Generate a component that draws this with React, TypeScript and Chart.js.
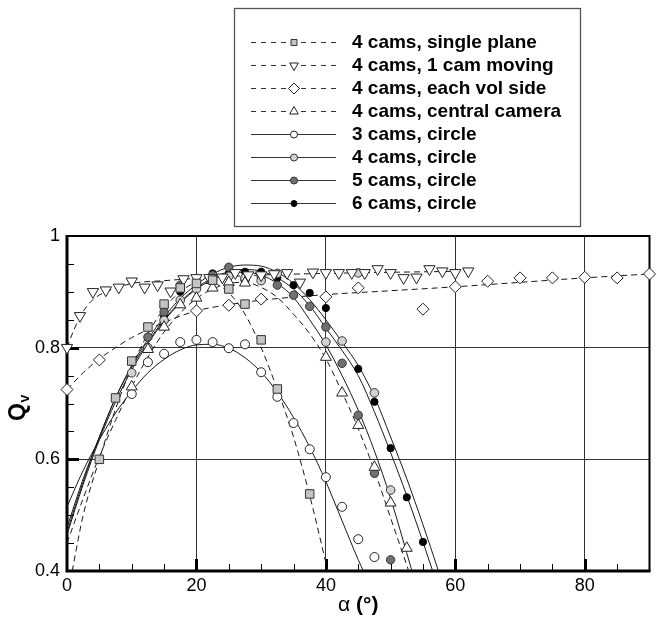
import React, { useEffect, useRef } from 'react';
import { Chart, registerables } from 'chart.js';

Chart.register(...registerables);

// ---------- data ----------
const xTickLabels = ['0', '20', '40', '60', '80'];
const yTickLabels = ['0.4', '0.6', '0.8', '1'];

const seriesLabels = [
  '4 cams, single plane',
  '4 cams, 1 cam moving',
  '4 cams, each vol side',
  '4 cams, central camera',
  '3 cams, circle',
  '4 cams, circle',
  '5 cams, circle',
  '6 cams, circle',
];

// markers
const singlePlaneX = [5, 7.5, 10, 12.5, 15, 17.5, 20, 22.5, 25, 27.5, 30, 32.5, 37.5];
const singlePlaneQ = [0.60, 0.71, 0.776, 0.837, 0.878, 0.907, 0.915, 0.921, 0.905, 0.878, 0.814, 0.726, 0.538];

const movingX = [0, 2, 4, 6, 8, 10, 12, 14, 16, 18, 20, 22, 24, 26, 28, 30, 32, 34, 36, 38, 40, 42, 44, 46, 48, 50, 52, 54, 56, 58, 60, 62];
const movingQ = [0.80, 0.857, 0.90, 0.903, 0.908, 0.919, 0.908, 0.912, 0.901, 0.923, 0.925, 0.925, 0.926, 0.934, 0.93, 0.93, 0.932, 0.934, 0.917, 0.935, 0.934, 0.934, 0.934, 0.934, 0.941, 0.934, 0.925, 0.926, 0.941, 0.937, 0.934, 0.937];

const eachVolX = [0, 5, 20, 25, 30, 40, 45, 55, 60, 65, 70, 75, 80, 85, 90];
const eachVolQ = [0.725, 0.778, 0.866, 0.876, 0.887, 0.891, 0.907, 0.869, 0.909, 0.919, 0.925, 0.925, 0.926, 0.925, 0.932];

const centralX = [10, 12.5, 15, 17.5, 20, 22.5, 25, 27.5, 40, 42.5, 45, 47.5, 50, 52.5];
const centralQ = [0.73, 0.797, 0.837, 0.877, 0.889, 0.907, 0.917, 0.916, 0.783, 0.719, 0.661, 0.586, 0.522, 0.441];

const threeCamX = [10, 12.5, 15, 17.5, 20, 22.5, 25, 27.5, 30, 32.5, 35, 37.5, 40, 42.5, 45, 47.5];
const threeCamQ = [0.717, 0.774, 0.789, 0.81, 0.814, 0.81, 0.799, 0.806, 0.756, 0.712, 0.665, 0.618, 0.568, 0.515, 0.457, 0.425];

const fourCamX = [10, 12.5, 15, 17.5, 20, 22.5, 25, 27.5, 30, 32.5, 40, 42.5, 45, 47.5, 50];
const fourCamQ = [0.755, 0.80, 0.849, 0.885, 0.905, 0.92, 0.928, 0.925, 0.92, 0.933, 0.81, 0.812, 0.934, 0.719, 0.545];

const fiveCamX = [10, 12.5, 15, 17.5, 20, 22.5, 25, 27.5, 30, 32.5, 35, 37.5, 40, 42.5, 45, 47.5, 50];
const fiveCamQ = [0.775, 0.819, 0.864, 0.912, 0.914, 0.93, 0.944, 0.921, 0.927, 0.912, 0.894, 0.874, 0.837, 0.772, 0.679, 0.575, 0.42];

const sixCamX = [10, 12.5, 15, 17.5, 20, 22.5, 25, 27.5, 30, 32.5, 35, 37.5, 40, 45, 47.5, 50, 52.5, 55];
const sixCamQ = [0.776, 0.801, 0.855, 0.9, 0.916, 0.933, 0.933, 0.936, 0.936, 0.925, 0.912, 0.898, 0.871, 0.762, 0.703, 0.62, 0.532, 0.452];

// fitted curves
const singlePlaneFitX = [0.8, 2.5, 5, 7.5, 10, 12.5, 15, 17.5, 20, 22.5, 25, 27.5, 30, 32.5, 35, 37.5, 40.3];
const singlePlaneFitQ = [0.40, 0.50, 0.60, 0.69, 0.765, 0.825, 0.87, 0.90, 0.915, 0.915, 0.898, 0.86, 0.80, 0.725, 0.64, 0.535, 0.40];

const movingFitX = [0, 1, 2, 3, 4, 6, 8, 10, 15, 20, 30, 40, 50, 62];
const movingFitQ = [0.80, 0.83, 0.855, 0.873, 0.886, 0.90, 0.908, 0.915, 0.92, 0.924, 0.93, 0.933, 0.935, 0.937];

const eachVolFitX = [0, 2.5, 5, 7.5, 10, 15, 20, 25, 30, 40, 50, 60, 70, 80, 90];
const eachVolFitQ = [0.725, 0.755, 0.78, 0.80, 0.818, 0.845, 0.866, 0.877, 0.885, 0.895, 0.902, 0.909, 0.917, 0.925, 0.932];

const centralFitX = [0, 2.5, 5, 7.5, 10, 12.5, 15, 17.5, 20, 22.5, 25, 27.5, 30, 32.5, 35, 37.5, 40, 42.5, 45, 47.5, 50, 52.8];
const centralFitQ = [0.45, 0.53, 0.605, 0.67, 0.73, 0.783, 0.828, 0.862, 0.888, 0.905, 0.915, 0.917, 0.908, 0.89, 0.86, 0.825, 0.78, 0.72, 0.655, 0.58, 0.495, 0.40];

const threeCamFitX = [0, 2.5, 5, 7.5, 10, 12.5, 15, 17.5, 20, 22.5, 25, 27.5, 30, 32.5, 35, 37.5, 40, 42.5, 45, 45.8];
const threeCamFitQ = [0.515, 0.58, 0.635, 0.683, 0.722, 0.755, 0.779, 0.796, 0.805, 0.806, 0.799, 0.782, 0.756, 0.72, 0.675, 0.622, 0.56, 0.49, 0.42, 0.40];

const fourCamFitX = [0, 2.5, 5, 7.5, 10, 12.5, 15, 17.5, 20, 22.5, 25, 27.5, 30, 32.5, 35, 37.5, 40, 42.5, 45, 47.5, 50, 52.5, 55, 56.5];
const fourCamFitQ = [0.478, 0.565, 0.64, 0.71, 0.765, 0.81, 0.85, 0.882, 0.907, 0.925, 0.936, 0.94, 0.937, 0.925, 0.905, 0.875, 0.835, 0.795, 0.75, 0.685, 0.612, 0.535, 0.452, 0.40];

const fiveCamFitX = [0, 2.5, 5, 7.5, 10, 12.5, 15, 17.5, 20, 22.5, 25, 27.5, 30, 32.5, 35, 37.5, 40, 42.5, 45, 47.5, 50, 53.3];
const fiveCamFitQ = [0.465, 0.555, 0.635, 0.703, 0.76, 0.807, 0.848, 0.88, 0.905, 0.922, 0.932, 0.935, 0.93, 0.915, 0.89, 0.85, 0.805, 0.75, 0.688, 0.615, 0.53, 0.40];

const sixCamFitX = [0, 2.5, 5, 7.5, 10, 12.5, 15, 17.5, 20, 22.5, 25, 27.5, 30, 32.5, 35, 37.5, 40, 42.5, 45, 47.5, 50, 52.5, 55, 57.4];
const sixCamFitQ = [0.47, 0.56, 0.64, 0.71, 0.768, 0.815, 0.855, 0.888, 0.913, 0.932, 0.944, 0.948, 0.946, 0.935, 0.915, 0.886, 0.85, 0.81, 0.768, 0.712, 0.64, 0.565, 0.483, 0.40];

// ---------- styling ----------
type Style = { pointStyle: string; radius: number; rotation: number; fill: string; stroke: string; dashed: boolean; legendRadius: number };
const styles: Style[] = [
  { pointStyle: 'rect', radius: 6, rotation: 0, fill: '#c4c4c4', stroke: '#333', dashed: true, legendRadius: 4.2 },
  { pointStyle: 'triangle', radius: 6.5, rotation: 180, fill: '#fff', stroke: '#222', dashed: true, legendRadius: 5 },
  { pointStyle: 'rectRot', radius: 6, rotation: 0, fill: '#fff', stroke: '#222', dashed: true, legendRadius: 5.5 },
  { pointStyle: 'triangle', radius: 6.3, rotation: 0, fill: '#fff', stroke: '#222', dashed: true, legendRadius: 5 },
  { pointStyle: 'circle', radius: 4.5, rotation: 0, fill: '#fff', stroke: '#222', dashed: false, legendRadius: 3.5 },
  { pointStyle: 'circle', radius: 4.3, rotation: 0, fill: '#d2d2d2', stroke: '#333', dashed: false, legendRadius: 3.5 },
  { pointStyle: 'circle', radius: 4.2, rotation: 0, fill: '#707070', stroke: '#333', dashed: false, legendRadius: 3.5 },
  { pointStyle: 'circle', radius: 3.6, rotation: 0, fill: '#000', stroke: '#000', dashed: false, legendRadius: 3 },
];

const markerSets = [
  [singlePlaneX, singlePlaneQ],
  [movingX, movingQ],
  [eachVolX, eachVolQ],
  [centralX, centralQ],
  [threeCamX, threeCamQ],
  [fourCamX, fourCamQ],
  [fiveCamX, fiveCamQ],
  [sixCamX, sixCamQ],
];
const fitSets = [
  [singlePlaneFitX, singlePlaneFitQ],
  [movingFitX, movingFitQ],
  [eachVolFitX, eachVolFitQ],
  [centralFitX, centralFitQ],
  [threeCamFitX, threeCamFitQ],
  [fourCamFitX, fourCamFitQ],
  [fiveCamFitX, fiveCamFitQ],
  [sixCamFitX, sixCamFitQ],
];

const FONT = '"Liberation Sans", Arial, Helvetica, sans-serif';

function drawMarker(ctx: CanvasRenderingContext2D, st: Style, x: number, y: number, r: number) {
  ctx.save();
  ctx.fillStyle = st.fill;
  ctx.strokeStyle = st.stroke;
  ctx.lineWidth = 1;
  ctx.setLineDash([]);
  ctx.beginPath();
  if (st.pointStyle === 'circle') {
    ctx.arc(x, y, r, 0, Math.PI * 2);
  } else if (st.pointStyle === 'rect') {
    const s = r * Math.SQRT1_2;
    ctx.rect(x - s, y - s, 2 * s, 2 * s);
  } else if (st.pointStyle === 'rectRot') {
    ctx.moveTo(x, y - r);
    ctx.lineTo(x + r, y);
    ctx.lineTo(x, y + r);
    ctx.lineTo(x - r, y);
    ctx.closePath();
  } else if (st.pointStyle === 'triangle') {
    const sgn = st.rotation === 180 ? -1 : 1;
    ctx.moveTo(x, y - sgn * r);
    ctx.lineTo(x + r * 0.866, y + sgn * r * 0.5);
    ctx.lineTo(x - r * 0.866, y + sgn * r * 0.5);
    ctx.closePath();
  }
  ctx.fill();
  ctx.stroke();
  ctx.restore();
}

const framePlugin = {
  id: 'frameAndTicks',
  beforeDatasetsDraw(chart: any) {
    const { ctx, chartArea: a, scales } = chart;
    const xs = scales.x;
    const ys = scales.y;
    ctx.save();
    ctx.strokeStyle = '#000';
    for (let v = 5; v < 90; v += 5) {
      const px = Math.round(xs.getPixelForValue(v)) + 0.5;
      const major = v % 20 === 0;
      ctx.lineWidth = major ? 3 : 1;
      ctx.beginPath();
      ctx.moveTo(px, a.bottom);
      ctx.lineTo(px, a.bottom - (major ? 12 : 7));
      ctx.stroke();
    }
    for (let k = 9; k <= 19; k++) {
      const v = k * 0.05;
      const py = Math.round(ys.getPixelForValue(v)) + 0.5;
      const major = k % 4 === 0;
      ctx.lineWidth = major ? 3 : 1;
      ctx.beginPath();
      ctx.moveTo(a.left, py);
      ctx.lineTo(a.left + (major ? 12 : 7), py);
      ctx.stroke();
    }
    ctx.lineWidth = 2;
    ctx.beginPath();
    ctx.moveTo(a.left, a.top);
    ctx.lineTo(a.right, a.top);
    ctx.lineTo(a.right, a.bottom);
    ctx.stroke();
    ctx.lineWidth = 3;
    ctx.beginPath();
    ctx.moveTo(a.left, a.top - 1);
    ctx.lineTo(a.left, a.bottom);
    ctx.lineTo(a.right + 1, a.bottom);
    ctx.stroke();
    ctx.restore();
  },
  afterDraw(chart: any) {
    const { ctx, chartArea: a } = chart;
    ctx.save();
    ctx.fillStyle = '#000';
    ctx.textBaseline = 'alphabetic';
    ctx.font = `21px ${FONT}`;
    const alpha = '\u03B1';
    const w1 = ctx.measureText(alpha + ' ').width;
    ctx.font = `bold 21px ${FONT}`;
    const w2 = ctx.measureText('(\u00B0)').width;
    const cx = (a.left + a.right) / 2;
    const startX = cx - (w1 + w2) / 2;
    ctx.font = `21px ${FONT}`;
    ctx.fillText(alpha + ' ', startX, 611);
    ctx.font = `bold 21px ${FONT}`;
    ctx.fillText('(\u00B0)', startX + w1, 611);
    ctx.translate(25, 421);
    ctx.rotate(-Math.PI / 2);
    ctx.font = `bold 23px ${FONT}`;
    ctx.fillText('Q', 0, 0);
    const qw = ctx.measureText('Q').width;
    ctx.font = `bold 14px ${FONT}`;
    ctx.fillText('v', qw + 0.5, 4);
    ctx.restore();

    ctx.save();
    ctx.strokeStyle = '#555';
    ctx.lineWidth = 1.3;
    ctx.fillStyle = '#fff';
    ctx.fillRect(234, 8, 346, 218);
    ctx.strokeRect(234.5, 8.5, 346, 218);
    for (let i = 0; i < seriesLabels.length; i++) {
      const st = styles[i];
      const y = 42 + i * 23;
      ctx.strokeStyle = '#333';
      ctx.lineWidth = 1;
      ctx.setLineDash(st.dashed ? [5, 5] : []);
      ctx.beginPath();
      ctx.moveTo(251, y + 0.5);
      ctx.lineTo(336, y + 0.5);
      ctx.stroke();
      ctx.setLineDash([]);
      drawMarker(ctx, st, 294, y + 0.5, st.legendRadius);
      ctx.fillStyle = '#000';
      ctx.font = `bold 19px ${FONT}`;
      ctx.textBaseline = 'middle';
      ctx.fillText(seriesLabels[i], 352, y + 1);
    }
    ctx.restore();
  },
};

export default function App() {
  const canvasRef = useRef<HTMLCanvasElement | null>(null);

  useEffect(() => {
    if (!canvasRef.current) return;
    const datasets: any[] = [];
    fitSets.forEach(([xs, qs], i) => {
      datasets.push({
        label: seriesLabels[i] + ' (fit)',
        data: xs.map((x, j) => ({ x, y: qs[j] })),
        showLine: true,
        pointRadius: 0,
        pointHoverRadius: 0,
        borderColor: '#1a1a1a',
        borderWidth: 1,
        borderDash: styles[i].dashed ? [6, 4] : [],
        cubicInterpolationMode: 'monotone',
        fill: false,
        order: 2,
      });
    });
    markerSets.forEach(([xs, qs], i) => {
      const st = styles[i];
      datasets.push({
        label: seriesLabels[i],
        data: xs.map((x, j) => ({ x, y: qs[j] })),
        showLine: false,
        pointStyle: st.pointStyle,
        pointRadius: st.radius,
        pointRotation: st.rotation,
        backgroundColor: st.fill,
        borderColor: st.stroke,
        borderWidth: 1,
        clip: false,
        order: 1,
      });
    });

    const chart = new Chart(canvasRef.current, {
      type: 'scatter',
      data: { datasets },
      options: {
        animation: false,
        responsive: true,
        maintainAspectRatio: false,
        layout: { padding: { top: 236, right: 2, left: 0, bottom: 0 } },
        plugins: { legend: { display: false }, tooltip: { enabled: false } },
        scales: {
          x: {
            type: 'linear',
            min: 0,
            max: 90,
            ticks: {
              stepSize: 20,
              padding: 4,
              color: '#000',
              font: { family: FONT, size: 18 },
              maxRotation: 0,
              callback: (v: any) => {
                const idx = [0, 20, 40, 60, 80].indexOf(Math.round(Number(v)));
                return idx >= 0 && Math.abs(Number(v) - Math.round(Number(v))) < 1e-6 ? xTickLabels[idx] : '';
              },
            },
            grid: {
              drawTicks: false,
              lineWidth: 1,
              color: (c: any) => {
                const v = c.tick ? c.tick.value : -1;
                return [20, 40, 60, 80].includes(v) ? '#333' : 'rgba(0,0,0,0)';
              },
            },
            border: { display: false },
            afterFit: (s: any) => { s.height = 47; },
          },
          y: {
            type: 'linear',
            min: 0.4,
            max: 1,
            ticks: {
              stepSize: 0.2,
              padding: 7,
              color: '#000',
              font: { family: FONT, size: 18 },
              callback: (v: any) => {
                const n = Math.round(Number(v) * 10);
                const idx = [4, 6, 8, 10].indexOf(n);
                return idx >= 0 ? yTickLabels[idx] : '';
              },
            },
            grid: {
              drawTicks: false,
              lineWidth: 1,
              color: (c: any) => {
                const v = c.tick ? Math.round(c.tick.value * 10) : -1;
                return v === 6 || v === 8 ? '#333' : 'rgba(0,0,0,0)';
              },
            },
            border: { display: false },
            afterFit: (s: any) => { s.width = 67; },
          },
        },
      } as any,
      plugins: [framePlugin],
    });
    return () => chart.destroy();
  }, []);

  return (
    <div style={{ position: 'absolute', left: 0, top: 0, width: 657, height: 618, background: '#fff' }}>
      <canvas ref={canvasRef} />
    </div>
  );
}
